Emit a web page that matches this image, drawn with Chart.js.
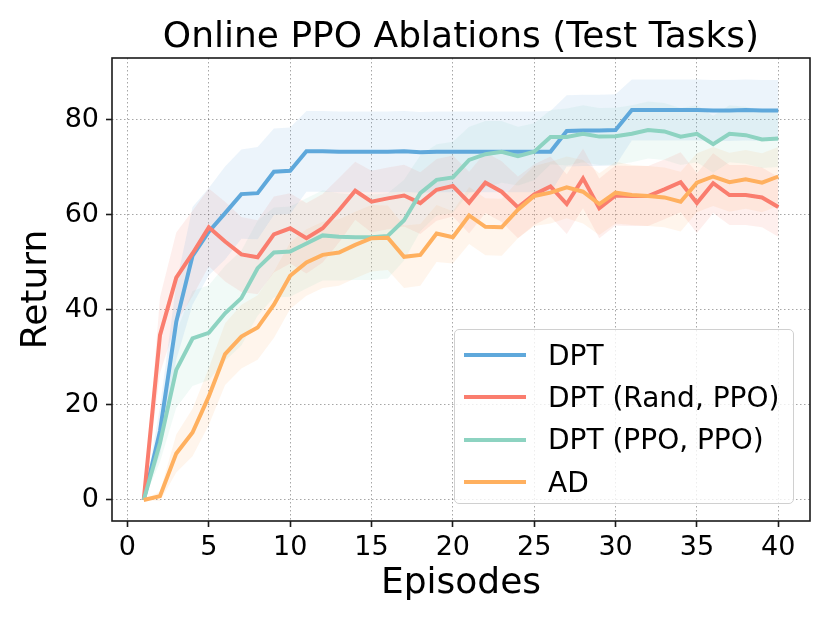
<!DOCTYPE html>
<html>
<head>
<meta charset="utf-8">
<script src="https://cdn.jsdelivr.net/npm/chart.js@4.4.1/dist/chart.umd.min.js"></script>
<style>
  body { margin: 0; background: #fff; }
  #wrap { position: relative; width: 830px; height: 623px; }
  #legend {
    position: absolute; left: 454px; top: 329px; width: 340px; height: 175px;
    box-sizing: border-box; border: 1.5px solid #d0d0d0; border-radius: 5px;
    background: rgba(255,255,255,0.8); font-family: "DejaVu Sans", sans-serif; font-size: 28px;
    padding-top: 4px;
  }
  .lg-row { display: flex; align-items: center; height: 42.3px; }
  .lg-swatch { width: 62px; height: 4px; margin-left: 9px; margin-right: 22px; }
</style>
</head>
<body>
<div id="wrap">
  <canvas id="chart" width="830" height="623"></canvas>
  <div id="legend"></div>
</div>
<script>
/* ── Data ───────────────────────────────────────────── */
const episodes = Array.from({length: 40}, (_, i) => i + 1);
const xTickValues = [0, 5, 10, 15, 20, 25, 30, 35, 40];
const yTickValues = [0, 20, 40, 60, 80];

const seriesNames = ['DPT', 'DPT (Rand, PPO)', 'DPT (PPO, PPO)', 'AD'];
const seriesColors = ['#5fa8db', '#fa7d6e', '#8dd3c1', '#ffb05f'];

const dptMean = [0, 14.5, 37.5, 51.4, 56.5, 60.4, 64.4, 64.6, 69.1, 69.3,
  73.4, 73.4, 73.3, 73.3, 73.3, 73.3, 73.4, 73.2, 73.3, 73.3,
  73.3, 73.3, 73.3, 73.3, 73.3, 73.3, 77.7, 77.8, 77.8, 77.9,
  82.1, 82.1, 82.1, 82.1, 82.1, 82.0, 82.0, 82.1, 82.0, 82.0];
const dptStd = [0, 5, 8, 10.3, 9.2, 9.8, 9.4, 9.7, 9.1, 9.1,
  8.5, 8.5, 8.5, 8.5, 8.5, 8.5, 8.5, 8.5, 8.5, 8.5,
  8.5, 8.5, 8.5, 8.5, 8.5, 8.6, 7.5, 7.5, 7.5, 7.5,
  6.4, 6.4, 6.4, 6.4, 6.4, 6.4, 6.4, 6.4, 6.4, 6.4];

const randMean = [0, 34.7, 46.8, 51.9, 57.4, 54.4, 51.7, 51.1, 55.9, 57.2,
  55.1, 57.2, 61.0, 65.1, 62.8, 63.5, 64.1, 62.5, 65.3, 66.1,
  62.6, 66.8, 64.9, 61.6, 64.3, 66.0, 62.3, 67.7, 61.4, 64.1,
  64.0, 64.0, 65.4, 66.9, 62.5, 66.7, 64.2, 64.2, 63.7, 61.7];
const randStd = [0, 8, 9.5, 9, 8.2, 8.4, 7.9, 7.8, 8, 7.4,
  7.4, 7.2, 6.8, 6.1, 6.5, 6.5, 6.5, 6.5, 6.5, 6.4,
  6.5, 6.4, 6.4, 6.5, 6.4, 6.3, 6.3, 6.3, 6.3, 6.3,
  6.3, 6.3, 6.3, 6.3, 6.3, 6.3, 6.3, 6.3, 6.3, 6.3];

const ppoMean = [0, 12, 27.4, 34.0, 35.2, 39.3, 42.5, 48.8, 52.1, 52.3,
  54.0, 55.7, 55.4, 55.3, 55.3, 55.6, 58.9, 64.6, 67.4, 67.9,
  71.6, 72.8, 73.3, 72.4, 73.3, 76.4, 76.4, 77.1, 76.5, 76.6,
  77.1, 77.9, 77.6, 76.5, 77.1, 74.9, 77.1, 76.8, 75.9, 76.1];
const ppoStd = [0, 4, 8, 10, 10, 10, 10, 10, 9.5, 9.5,
  9.5, 9.5, 9.2, 9, 9, 9, 8.5, 8, 7.5, 7.5,
  7, 7, 6.5, 6.2, 6, 5.7, 6, 6, 6, 6,
  6, 6, 6, 6, 6, 6, 6, 6, 6, 6];

const adMean = [0, 0.8, 9.8, 14.2, 21.8, 30.7, 34.4, 36.3, 41.1, 47.2,
  50.0, 51.6, 52.1, 53.7, 55.1, 55.2, 51.2, 51.6, 56.1, 55.3,
  59.9, 57.5, 57.4, 61.1, 64.0, 64.7, 65.8, 64.9, 62.3, 64.7,
  64.2, 64.0, 63.7, 62.8, 66.8, 68.1, 66.9, 67.5, 66.8, 68.1];
const adStd = [0, 1, 4, 5, 6, 6.5, 6.7, 6.8, 7, 7,
  7, 7, 7, 7, 7, 6.8, 6.6, 6.5, 6, 5.5,
  6, 6, 6, 6, 6.3, 6.5, 6.5, 6.7, 6.5, 6.5,
  6.3, 6.3, 6.3, 6.3, 6.2, 6.2, 6.2, 6.2, 6.2, 6.2];

const means = [dptMean, randMean, ppoMean, adMean];
const stds  = [dptStd, randStd, ppoStd, adStd];

/* ── Helpers ────────────────────────────────────────── */
const FONT = '"DejaVu Sans", sans-serif';
const pts = arr => arr.map((v, i) => ({x: episodes[i], y: v}));
function rgba(hex, a) {
  const n = parseInt(hex.slice(1), 16);
  return `rgba(${n >> 16},${(n >> 8) & 255},${n & 255},${a})`;
}

/* ── Datasets ───────────────────────────────────────── */
const datasets = [];
seriesNames.forEach((name, s) => {
  const m = means[s], sd = stds[s], c = seriesColors[s];
  datasets.push({
    label: name + ' upper', band: true,
    data: pts(m.map((v, i) => v + sd[i])),
    borderWidth: 0, pointRadius: 0, fill: '+1',
    backgroundColor: rgba(c, 0.12), order: 20 + s,
  });
  datasets.push({
    label: name + ' lower', band: true,
    data: pts(m.map((v, i) => v - sd[i])),
    borderWidth: 0, pointRadius: 0, fill: false, order: 20 + s,
  });
});
seriesNames.forEach((name, s) => {
  datasets.push({
    label: name,
    data: pts(means[s]),
    borderColor: seriesColors[s],
    borderWidth: 4,
    pointRadius: 0,
    fill: false,
    tension: 0,
    order: 4 - s,
  });
});

/* ── Frame (all four spines) ────────────────────────── */
const framePlugin = {
  id: 'frame',
  afterDraw(chart) {
    const {ctx, chartArea: a} = chart;
    ctx.save();
    ctx.strokeStyle = '#1a1a1a';
    ctx.lineWidth = 1.6;
    ctx.strokeRect(a.left, a.top, a.right - a.left, a.bottom - a.top);
    ctx.restore();
  },
};

const gridCommon = {
  color: 'rgba(0,0,0,0.35)',
  lineWidth: 1,
  tickColor: '#1a1a1a',
  tickWidth: 1.6,
  tickLength: 6,
};

const chart = new Chart(document.getElementById('chart'), {
  type: 'line',
  data: {datasets},
  plugins: [framePlugin],
  options: {
    responsive: false,
    devicePixelRatio: 1,
    animation: false,
    layout: {padding: {left: 0, right: 20, top: 0, bottom: 0}},
    plugins: {
      legend: {display: false},
      tooltip: {enabled: false},
      title: {
        display: true,
        fullSize: false,
        text: 'Online PPO Ablations (Test Tasks)',
        color: '#000',
        font: {family: FONT, size: 36, weight: 'normal', lineHeight: 1},
        padding: {top: 20, bottom: 2},
      },
    },
    scales: {
      x: {
        type: 'linear',
        min: -0.95, max: 41.95,
        afterBuildTicks: ax => { ax.ticks = xTickValues.map(v => ({value: v})); },
        afterFit: ax => { ax.height = 102; },
        grid: gridCommon,
        border: {display: false, dash: [1.5, 2.5]},
        ticks: {color: '#000', padding: 5, maxRotation: 0, font: {family: FONT, size: 27}},
        title: {
          display: true, text: 'Episodes', color: '#000',
          font: {family: FONT, size: 36, lineHeight: 1.2},
          padding: {top: 0, bottom: 18},
        },
      },
      y: {
        min: -4.43, max: 93.05,
        afterBuildTicks: ax => { ax.ticks = yTickValues.map(v => ({value: v})); },
        afterFit: ax => { ax.width = 112; },
        grid: gridCommon,
        border: {display: false, dash: [1.5, 2.5]},
        ticks: {color: '#000', padding: 7, font: {family: FONT, size: 27}},
        title: {
          display: true, text: 'Return', color: '#000',
          font: {family: FONT, size: 36, lineHeight: 1.2},
          padding: {top: 15, bottom: 0},
        },
      },
    },
  },
});

/* ── HTML legend ────────────────────────────────────── */
document.getElementById('legend').innerHTML = chart.data.datasets
  .filter(d => !d.band)
  .map(d => `<div class="lg-row"><div class="lg-swatch" style="background:${d.borderColor}"></div><span>${d.label}</span></div>`)
  .join('');
</script>
</body>
</html>
